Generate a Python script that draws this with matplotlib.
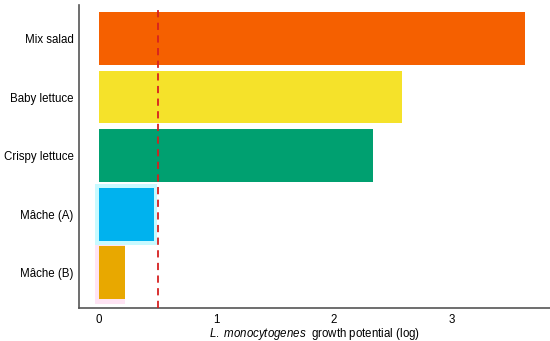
import matplotlib.pyplot as plt

plt.rcParams['font.family'] = ['Liberation Sans', 'DejaVu Sans']
plt.rcParams['mathtext.fontset'] = 'custom'
plt.rcParams['mathtext.it'] = 'Liberation Sans:italic'
plt.rcParams['mathtext.rm'] = 'Liberation Sans'

# data
products = ['Mâche (B)', 'Mâche (A)', 'Crispy lettuce', 'Baby lettuce', 'Mix salad']
growth = [0.22, 0.47, 2.33, 2.58, 3.63]
bar_colors = ['#E8A800', '#00B2EE', '#00A070', '#F5E22A', '#F56000']
# faint halo behind the small bars
halo = [0.25, 0.52, 0, 0, 0]
halo_colors = ['#FFE4F4', '#C8FAFF', 'white', 'white', 'white']
threshold = 0.5
xticks = [0, 1, 2, 3]

fig = plt.figure(figsize=(5.5, 3.41), dpi=100)
ax = fig.add_axes([0.1436, 0.0968, 0.8564, 0.888])

pos = list(range(len(products)))
ax.barh(pos, halo, left=-0.03, height=1.05, color=halo_colors, zorder=1)
ax.barh(pos, growth, height=0.9, color=bar_colors, zorder=2)

ax.axvline(threshold, color='#D62020', linestyle=(0, (4, 3)), linewidth=1.3, zorder=3)

ax.set_xlim(-0.17, 3.84)
ax.set_ylim(-0.6, 4.57)
ax.set_yticks(pos)
ax.set_yticklabels(products, fontsize=8.3)
ax.set_xticks(xticks)
ax.set_xticklabels([str(t) for t in xticks], fontsize=8.3)
ax.tick_params(axis='y', length=0, pad=4)
ax.tick_params(axis='x', length=0, pad=4)

for s in ['top', 'right']:
    ax.spines[s].set_visible(False)
for s in ['left', 'bottom']:
    ax.spines[s].set_color('#555555')
    ax.spines[s].set_linewidth(1.2)

ax.set_xlabel(r'$\it{L.\ monocytogenes}$  growth potential (log)', fontsize=8.3, labelpad=0)

fig.savefig('out.png', dpi=100)
